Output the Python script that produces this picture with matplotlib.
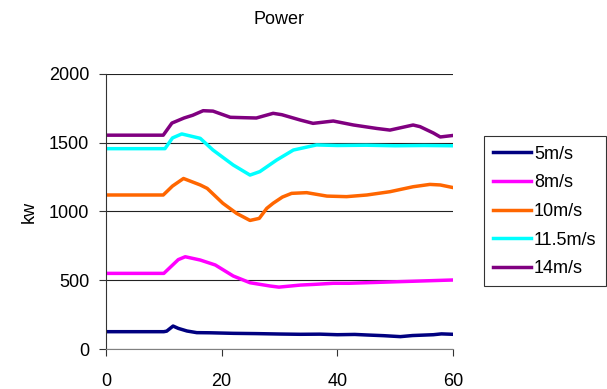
import matplotlib
import matplotlib.pyplot as plt

matplotlib.use('Agg')
plt.rcParams['font.family'] = ['Liberation Sans', 'DejaVu Sans']

# time (s) / power (kw)
t_5 = [0, 10, 10.5, 11.6, 12.5, 14, 15.7, 18, 22, 26, 30, 33.6, 37, 40, 43, 45.1, 48, 50.9, 53, 56.6, 58, 60]
p_5 = [126, 126, 130, 167, 150, 131, 119, 118, 114, 112, 109, 107, 108, 104, 106, 102, 97, 90, 98, 104, 110, 107]

t_8 = [0, 10, 11, 12.5, 13.7, 16.3, 18.9, 22, 24.9, 28.4, 29.9, 33.6, 36, 39.3, 42, 45, 48, 50.9, 54, 57, 60]
p_8 = [550, 550, 590, 650, 671, 647, 611, 531, 482, 458, 450, 465, 470, 478, 478, 482, 486, 490, 494, 498, 502]

t_10 = [0, 9.9, 11.5, 13.4, 16.3, 17.5, 20.2, 22.6, 24.9, 26.5, 27.8, 28.9, 30.5, 32.1, 34.7, 38.2, 41.6, 45.1, 49.1, 53.1, 56, 57.8, 60]
p_10 = [1120, 1120, 1185, 1240, 1193, 1168, 1060, 986, 935, 950, 1023, 1060, 1105, 1132, 1137, 1112, 1108, 1120, 1144, 1180, 1197, 1193, 1174]

t_11 = [0, 10.2, 11.5, 13.1, 16.3, 18.5, 22, 24.9, 26.6, 29.5, 32.4, 36.4, 40, 45, 50, 55, 60]
p_11 = [1457, 1457, 1535, 1564, 1532, 1447, 1338, 1265, 1290, 1374, 1447, 1484, 1480, 1482, 1478, 1480, 1478]

t_14 = [0, 9.9, 11.4, 13.5, 15, 16.8, 18.5, 21.5, 24, 26, 28.9, 30.4, 33.6, 35.8, 39.3, 42.8, 46.8, 49.1, 53.1, 54.3, 56.6, 57.8, 60]
p_14 = [1555, 1555, 1643, 1680, 1700, 1733, 1730, 1685, 1682, 1680, 1714, 1704, 1665, 1641, 1658, 1629, 1604, 1592, 1629, 1617, 1571, 1542, 1553]

series = [
    ("5m/s", t_5, p_5, "#000080"),
    ("8m/s", t_8, p_8, "#FF00FF"),
    ("10m/s", t_10, p_10, "#FF6600"),
    ("11.5m/s", t_11, p_11, "#00FFFF"),
    ("14m/s", t_14, p_14, "#800080"),
]

fig = plt.figure(figsize=(6.07, 3.89), dpi=100)
ax = fig.add_axes([0.1746, 0.1028, 0.5717, 0.707])

for name, t, p, c in series:
    ax.plot(t, p, color=c, linewidth=2.5, label=name)

ax.set_xlim(0, 60)
ax.set_ylim(0, 2000)
ax.set_xticks([0, 20, 40, 60])
ax.set_yticks([0, 500, 1000, 1500, 2000])
ax.yaxis.grid(True, color="#222222", linewidth=0.8)
ax.set_axisbelow(True)
for s in ["top", "right"]:
    ax.spines[s].set_visible(False)
ax.spines["left"].set_color("#333333")
ax.spines["bottom"].set_color("#808080")
ax.tick_params(labelsize=13, length=5, color="#333333")
ax.tick_params(axis="x", pad=12)
ax.tick_params(axis="y", pad=7)

ax.set_title("Power", fontsize=13, pad=36)
ax.set_ylabel("kw", fontsize=13, labelpad=8)

leg = ax.legend(loc="center left", bbox_to_anchor=(1.075, 0.5), fontsize=13,
                frameon=True, fancybox=False, edgecolor="black",
                handlelength=2.1, labelspacing=0.65, borderpad=0.5,
                handletextpad=0.15, borderaxespad=0.3)
leg.get_frame().set_linewidth(0.8)

fig.savefig("out.png", dpi=100)
